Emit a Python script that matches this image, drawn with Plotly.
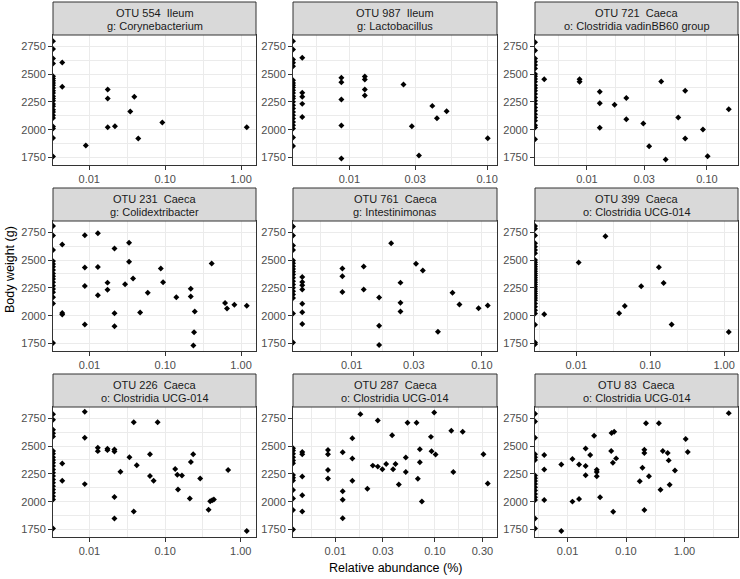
import numpy as np
import plotly.graph_objects as go

# ---------------- data ----------------
# OTU 554 Ileum
otu554_x = [0.0044, 0.0044, 0.0090, 0.0175, 0.0175, 0.0175, 0.0218, 0.0347, 0.0392, 0.0442, 0.0918, 1.19]
otu554_y = [2603, 2385, 1858, 2361, 2280, 2023, 2031, 2163, 2295, 1921, 2064, 2023]
otu554_zero_y = [2795, 2725, 2640, 2595, 2480, 2460, 2440, 2420, 2400, 2375, 2350, 2330, 2300, 2280,
                 2260, 2230, 2210, 2180, 2160, 2130, 2105, 2030, 2010, 1925, 1760]

# OTU 987 Ileum
otu987_x = [0.00455] * 5 + [0.00875] * 5 + [0.01294] * 4 + [0.0247, 0.0284, 0.032, 0.040, 0.0432, 0.0508, 0.101]
otu987_y = [2645, 2331, 2295, 2232, 2115, 2466, 2427, 2271, 2037, 1741, 2478, 2451, 2361, 2307,
            2406, 2031, 1768, 2214, 2103, 2166, 1924]
otu987_zero_y = [2795, 2720, 2630, 2600, 2570, 2445, 2420, 2400, 2380, 2355, 2330, 2300, 2280, 2250,
                 2220, 2190, 2160, 2130, 2100, 2070, 2040, 2010, 1930, 1855]

# OTU 721 Caeca
otu721_x = [0.00441, 0.00869, 0.00869, 0.0128, 0.0128, 0.0128, 0.017, 0.0213, 0.0213, 0.0295, 0.033,
            0.0416, 0.0453, 0.0577, 0.0659, 0.0659, 0.0926, 0.1013, 0.152]
otu721_y = [2453, 2453, 2430, 2341, 2237, 2017, 2225, 2284, 2094, 2056, 1851, 2433, 1732, 2109, 2349,
            1922, 2002, 1762, 2183]
otu721_zero_y = [2785, 2710, 2640, 2610, 2580, 2550, 2500, 2480, 2455, 2430, 2400, 2375, 2350, 2320,
                 2290, 2260, 2230, 2200, 2170, 2140, 2110, 2080, 2040, 2020, 1915]

# OTU 231 Caeca
otu231_x = [0.00437, 0.00437, 0.00437, 0.00868, 0.00868, 0.00868, 0.00868, 0.0129, 0.0129, 0.0129,
            0.0173, 0.0173, 0.0214, 0.0214, 0.0214, 0.0295, 0.0333, 0.0333, 0.0376, 0.0466, 0.0588,
            0.0873, 0.0936, 0.140, 0.217, 0.217, 0.245, 0.240, 0.235, 0.41, 0.615, 0.653, 0.817, 1.19]
otu231_y = [2640, 2025, 2010, 2722, 2432, 2267, 1921, 2741, 2438, 2184, 2297, 2233, 2603, 2022, 1906,
            2282, 2655, 2484, 2334, 2028, 2206, 2423, 2300, 2166, 2242, 2172, 2037, 1851, 1732, 2469,
            2114, 2065, 2099, 2089]
otu231_zero_y = [2805, 2720, 2590, 2490, 2465, 2440, 2410, 2380, 2355, 2330, 2300, 2270, 2240, 2210,
                 2165, 2110, 1755]

# OTU 761 Caeca
otu761_x = [0.00417] * 7 + [0.00848] * 3 + [0.01237] * 2 + [0.01625] * 3 + [0.0201, 0.0237, 0.0237, 0.0237,
                                                                         0.0312, 0.0352, 0.046, 0.0595,
                                                                         0.0673, 0.0944, 0.111]
otu761_y = [2348, 2303, 2273, 2236, 2107, 2031, 1925, 2424, 2354, 2212, 2442, 2236, 2164, 1910, 1738,
            2650, 2297, 2116, 2037, 2466, 2406, 1856, 2206, 2100, 2067, 2091]
otu761_zero_y = [2800, 2720, 2630, 2590, 2495, 2470, 2445, 2420, 2395, 2370, 2340, 2310, 2280, 2250,
                 2220, 2190, 2160, 2020, 1760]

# OTU 399 Caeca
otu399_x = [0.00368, 0.01076, 0.0248, 0.038, 0.0453, 0.0755, 0.131, 0.152, 0.195, 1.157]
otu399_y = [2013, 2478, 2714, 2022, 2088, 2264, 2436, 2294, 1922, 1853]
otu399_zero_y = [2805, 2780, 2720, 2650, 2620, 2590, 2560, 2500, 2480, 2460, 2440, 2420, 2400, 2380,
                 2360, 2340, 2320, 2300, 2280, 2260, 2240, 2220, 2200, 2180, 2160, 2140, 2110, 2080,
                 2050, 2020, 1920, 1760, 1745]

# OTU 226 Caeca
otu226_x = [0.00437, 0.00437, 0.00868, 0.00868, 0.00868, 0.0129, 0.0129, 0.0173, 0.0173, 0.0214, 0.0214,
            0.0214, 0.0214, 0.0257, 0.0338, 0.0385, 0.0385, 0.0422, 0.0631, 0.0631, 0.0705, 0.0796,
            0.136, 0.145, 0.148, 0.167, 0.212, 0.219, 0.235, 0.291, 0.375, 0.394, 0.419, 0.441, 0.681, 1.2]
otu226_y = [2342, 2188, 2807, 2575, 2158, 2484, 2454, 2475, 2463, 2469, 2451, 2043, 1850, 2270, 2400,
            2714, 1913, 2327, 2427, 2230, 2188, 2714, 2294, 2242, 2110, 2236, 2028, 2357, 2427, 2209,
            1928, 2004, 2013, 2019, 2285, 1738]
otu226_zero_y = [2785, 2735, 2645, 2615, 2585, 2455, 2430, 2400, 2375, 2350, 2320, 2290, 2260, 2230,
                 2200, 2170, 2140, 2110, 2080, 2050, 2020, 1760]

# OTU 287 Caeca
otu287_x = [0.00466] * 5 + [0.00844] * 4 + [0.01186] * 4 + [0.01483] * 3 + [
    0.01786, 0.021, 0.0238, 0.0267, 0.0267, 0.0297, 0.0324, 0.0372, 0.038, 0.0402,
    0.0434, 0.051, 0.051, 0.0531, 0.0654, 0.0674, 0.0706, 0.0706, 0.074, 0.0912,
    0.0925, 0.0984, 0.1016, 0.146, 0.153, 0.190, 0.307, 0.339]
otu287_y = [2447, 2426, 2227, 2059, 1912, 2465, 2426, 2285, 2209, 2444, 2095, 2017, 1852, 2570, 2387,
            2188, 2786, 2116, 2324, 2315, 2729, 2291, 2339, 2597, 2291, 2339, 2155, 2396, 2267, 2708,
            2708, 2206, 2471, 2354, 2002, 2582, 2453, 2801, 2423, 2636, 2267, 2627, 2426, 2164]
otu287_zero_y = [2480, 2460, 2430, 2400, 2370, 2345, 2240, 2215, 2190, 2105, 2030, 1925, 1750]

# OTU 83 Caeca
otu83_x = [0.00399] * 3 + [0.00782] * 2 + [0.01213] * 2 + [0.01573] * 2 + [0.0204] * 3 + [
    0.0244, 0.0285, 0.0316, 0.0316, 0.0316, 0.036, 0.0558, 0.0566, 0.0596, 0.0604,
    0.0628, 0.0678, 0.172, 0.191, 0.206, 0.206, 0.206, 0.220, 0.247, 0.365,
    0.389, 0.426, 0.517, 0.537, 0.558, 0.687, 1.05, 1.14, 5.73]
otu83_y = [2419, 2290, 2016, 2335, 1738, 2383, 2001, 2335, 2025, 2478, 2320, 2237,
           2419, 2592, 2287, 2266, 2228, 2040, 2455, 2616, 2350, 1911,
           2628, 2389, 2183, 2305, 2466, 2437, 1926, 2705, 2228, 2705,
           2108, 2455, 2437, 2371, 2153, 2281, 2562, 2446, 2795]
otu83_zero_y = [2790, 2720, 2575, 2425, 2400, 2375, 2235, 2210, 2185, 2160, 2130, 2100, 2070, 2040,
                2015, 1850, 1760]

ticks_dec = [0.01, 0.1, 1.0]
labels_dec = ["0.01", "0.10", "1.00"]
ticks_13 = [0.01, 0.03, 0.1]
labels_13 = ["0.01", "0.03", "0.10"]
ticks_13b = [0.01, 0.03, 0.1, 0.3]
labels_13b = ["0.01", "0.03", "0.10", "0.30"]

y_ticks = [1750, 2000, 2250, 2500, 2750]
y_minor = [1875, 2125, 2375, 2625]

panels = [
    ("OTU 554  Ileum", "g: Corynebacterium", otu554_x, otu554_y, otu554_zero_y, ticks_dec, labels_dec),
    ("OTU 987  Ileum", "g: Lactobacillus", otu987_x, otu987_y, otu987_zero_y, ticks_13, labels_13),
    ("OTU 721  Caeca", "o: Clostridia vadinBB60 group", otu721_x, otu721_y, otu721_zero_y, ticks_13, labels_13),
    ("OTU 231  Caeca", "g: Colidextribacter", otu231_x, otu231_y, otu231_zero_y, ticks_dec, labels_dec),
    ("OTU 761  Caeca", "g: Intestinimonas", otu761_x, otu761_y, otu761_zero_y, ticks_13, labels_13),
    ("OTU 399  Caeca", "o: Clostridia UCG-014", otu399_x, otu399_y, otu399_zero_y, ticks_dec, labels_dec),
    ("OTU 226  Caeca", "o: Clostridia UCG-014", otu226_x, otu226_y, otu226_zero_y, ticks_dec, labels_dec),
    ("OTU 287  Caeca", "o: Clostridia UCG-014", otu287_x, otu287_y, otu287_zero_y, ticks_13b, labels_13b),
    ("OTU 83  Caeca", "o: Clostridia UCG-014", otu83_x, otu83_y, otu83_zero_y, ticks_dec, labels_dec),
]

# ---------------- layout geometry (pixels) ----------------
W, H = 740, 579
COL_X = [(53, 256), (293, 497), (535, 738)]
STRIP_TOP = [2, 188, 374]
STRIP_H = 33
PLOT_H = 129.5
Y_RANGE = [1688, 2850]

FONT = "Liberation Sans, Arial, Helvetica, sans-serif"
GRID = "#EBEBEB"
BORDER = "#333333"


def px_x(p):
    return p / W


def px_y(p):
    return 1 - p / H


fig = go.Figure()
layout = dict(
    width=W, height=H, margin=dict(l=0, r=0, t=0, b=0),
    paper_bgcolor="white", plot_bgcolor="white", showlegend=False,
    font=dict(family=FONT, size=11, color="#4D4D4D"),
)
shapes = []
annotations = []

for i, (t1, t2, xs, ys, zeros, tks, tls) in enumerate(panels):
    r, c = divmod(i, 3)
    n = i + 1
    xa = "xaxis" if n == 1 else f"xaxis{n}"
    ya = "yaxis" if n == 1 else f"yaxis{n}"
    xref = "x" if n == 1 else f"x{n}"
    yref = "y" if n == 1 else f"y{n}"

    lx = np.log10(np.array(xs, dtype=float))
    lo, hi = lx.min(), lx.max()
    pad = 0.05 * (hi - lo)
    xr = [lo - pad, hi + pad]

    lt = np.log10(tks)
    d = np.diff(lt)
    minor_log = [lt[0] - d[0] / 2] + list((lt[:-1] + lt[1:]) / 2) + [lt[-1] + d[-1] / 2]
    minor_vals = [10 ** v for v in minor_log]

    x0, x1 = COL_X[c]
    ptop = STRIP_TOP[r] + STRIP_H
    pbot = ptop + PLOT_H

    layout[xa] = dict(
        domain=[px_x(x0), px_x(x1)], anchor=yref, type="log", range=xr,
        tickmode="array", tickvals=tks, ticktext=tls,
        showgrid=True, gridcolor=GRID, gridwidth=1,
        minor=dict(tickmode="array", tickvals=minor_vals, showgrid=True, gridcolor=GRID,
                   gridwidth=0.5, ticks=""),
        ticks="outside", ticklen=4, tickcolor=BORDER, tickwidth=1,
        showline=True, mirror=True, linecolor=BORDER, linewidth=1,
        zeroline=False, tickfont=dict(size=11, color="#4D4D4D", family=FONT),
    )
    layout[ya] = dict(
        domain=[px_y(pbot), px_y(ptop)], anchor=xref, range=Y_RANGE,
        tickmode="array", tickvals=y_ticks,
        showgrid=True, gridcolor=GRID, gridwidth=1,
        minor=dict(tickmode="array", tickvals=y_minor, showgrid=True, gridcolor=GRID,
                   gridwidth=0.5, ticks=""),
        ticks="outside", ticklen=4, tickcolor=BORDER, tickwidth=1,
        showline=True, mirror=True, linecolor=BORDER, linewidth=1,
        zeroline=False, tickfont=dict(size=11, color="#4D4D4D", family=FONT),
    )

    x_edge = 10 ** xr[0]
    all_x = list(xs) + [x_edge] * len(zeros)
    all_y = list(ys) + list(zeros)
    fig.add_trace(go.Scatter(
        x=all_x, y=all_y, mode="markers", xaxis=xref, yaxis=yref,
        marker=dict(symbol="diamond", size=4.6, color="black", line=dict(width=0)),
        cliponaxis=True, hoverinfo="x+y",
    ))

    # strip
    shapes.append(dict(type="rect", xref="paper", yref="paper",
                       x0=px_x(x0), x1=px_x(x1), y0=px_y(ptop), y1=px_y(STRIP_TOP[r]),
                       fillcolor="#D9D9D9", line=dict(color=BORDER, width=1), layer="above"))
    cx = px_x((x0 + x1) / 2)
    for txt, off in ((t1, 11.3), (t2, 24.0)):
        annotations.append(dict(
            text=txt.replace("  ", " \u00a0"), x=cx, y=px_y(STRIP_TOP[r] + off),
            xref="paper", yref="paper", xanchor="center", yanchor="middle",
            showarrow=False, font=dict(size=11, color="#1A1A1A", family=FONT)))

annotations.append(dict(text="Body weight (g)", x=px_x(10), y=px_y(270), xref="paper", yref="paper",
                        textangle=-90, showarrow=False, xanchor="center", yanchor="middle",
                        font=dict(size=12.5, color="black", family=FONT)))
annotations.append(dict(text="Relative abundance (%)", x=px_x(395.5), y=px_y(568), xref="paper",
                        yref="paper", showarrow=False, xanchor="center", yanchor="middle",
                        font=dict(size=12.5, color="black", family=FONT)))

layout["shapes"] = shapes
layout["annotations"] = annotations
fig.update_layout(**layout)
fig.write_html("out.html")
